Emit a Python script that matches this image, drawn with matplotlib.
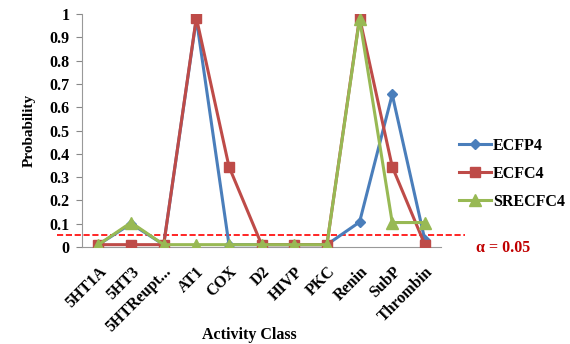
import numpy as np
import matplotlib.pyplot as plt

categories = ['5HT1A', '5HT3', '5HTReupt...', 'AT1', 'COX', 'D2', 'HIVP', 'PKC',
              'Renin', 'SubP', 'Thrombin']
ecfp4 = [0.01, 0.10, 0.01, 0.98, 0.01, 0.01, 0.01, 0.01, 0.107, 0.655, 0.03]
ecfc4 = [0.01, 0.01, 0.01, 0.985, 0.345, 0.01, 0.01, 0.01, 0.985, 0.345, 0.01]
srecfc4 = [0.01, 0.105, 0.01, 0.01, 0.01, 0.01, 0.01, 0.01, 0.98, 0.105, 0.105]
alpha = 0.05

plt.rcParams['font.family'] = ['Liberation Serif', 'DejaVu Serif']
plt.rcParams['font.weight'] = 'bold'

fig = plt.figure(figsize=(5.7, 3.44), dpi=100)
ax = fig.add_axes([0.144, 0.282, 0.630, 0.677])

x = np.arange(len(categories))
ax.plot(x, ecfp4, color='#4A7EBB', lw=2.2, marker='D', ms=5.5, label='ECFP4', zorder=3)
ax.plot(x, ecfc4, color='#BE4B48', lw=2.2, marker='s', ms=7.5, label='ECFC4', zorder=4)
ax.plot(x, srecfc4, color='#98B954', lw=2.2, marker='^', ms=8.5, label='SRECFC4', zorder=5)

ax.set_xlim(-0.5, len(categories) - 0.5)
ax.set_ylim(0, 1)
ax.set_yticks(np.arange(0, 1.01, 0.1))
ax.set_yticklabels(['0', '0.1', '0.2', '0.3', '0.4', '0.5', '0.6', '0.7', '0.8', '0.9', '1'])
ax.set_xticks(x)
ax.set_xticklabels(categories, rotation=45, ha='right', rotation_mode='anchor')
ax.tick_params(axis='x', length=0, labelsize=11.5, pad=12)
ax.tick_params(axis='y', length=4, color='#888888', labelsize=11.5, pad=5)
for s in ['top', 'right']:
    ax.spines[s].set_visible(False)
for s in ['left', 'bottom']:
    ax.spines[s].set_color('#999999')

ax.set_ylabel('Probability', fontsize=11, fontweight='bold', labelpad=10)
ax.set_xlabel('Activity Class', fontsize=11.5, fontweight='bold')
ax.xaxis.set_label_coords(0.465, -0.345)

# significance threshold
ax.plot([-0.07, 1.067], [alpha, alpha], transform=ax.get_yaxis_transform(),
        color='red', ls='--', lw=1.2, clip_on=False, zorder=2)
ax.text(1.097, -0.005, 'α = 0.05', transform=ax.transAxes, color='#C00000',
        fontsize=11.5, fontweight='bold', va='center', ha='left')

ax.legend(loc='center left', bbox_to_anchor=(1.01, 0.315), frameon=False,
          fontsize=11.5, handlelength=2.0, handletextpad=0.1, labelspacing=0.75)

fig.savefig('out.png', dpi=100)
